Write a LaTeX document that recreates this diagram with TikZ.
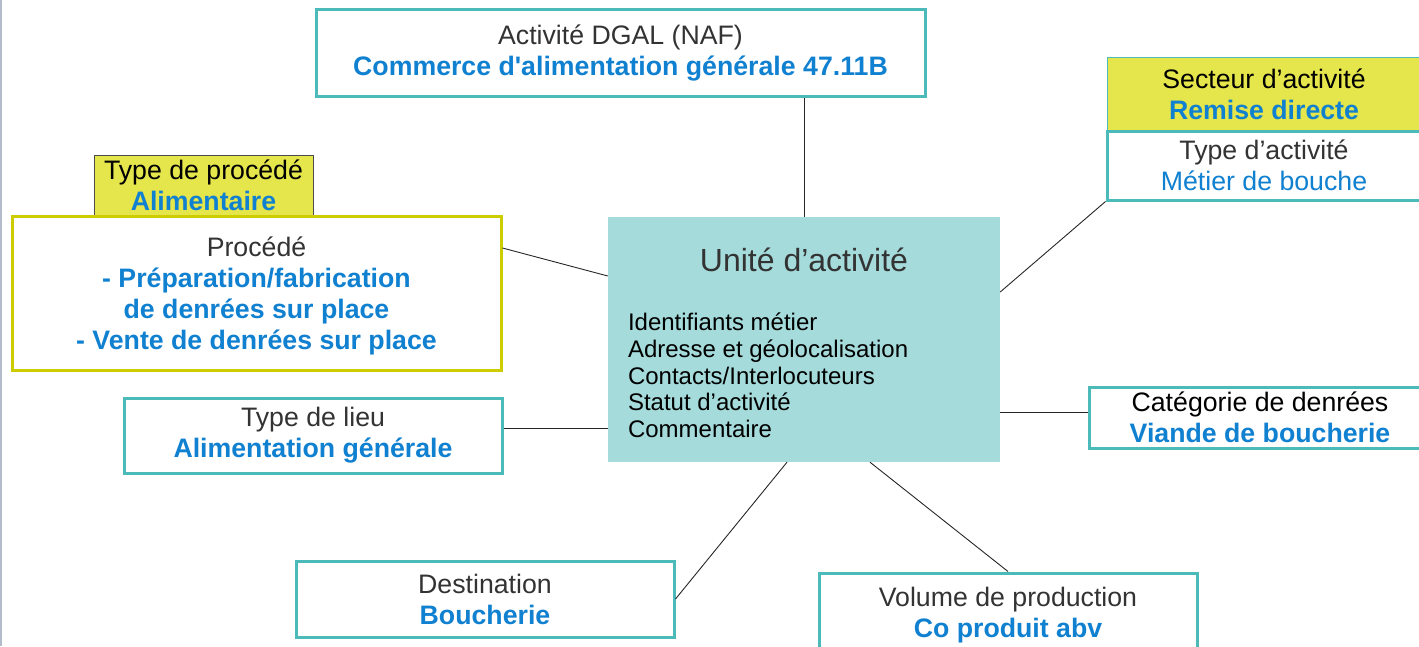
\documentclass[tikz,border=0pt]{standalone}
\usepackage{fontspec}
\setmainfont{Liberation Sans}
\usetikzlibrary{positioning}
\definecolor{bleuval}{RGB}{16,128,208}
\definecolor{turquoise}{RGB}{75,186,184}
\definecolor{fondunite}{RGB}{165,219,219}
\definecolor{jaunetag}{RGB}{229,229,76}
\definecolor{jauneproc}{RGB}{204,204,0}
\definecolor{grisfonce}{RGB}{51,51,51}
\definecolor{bordgauche}{RGB}{180,188,204}
\newcommand{\valeur}[1]{\textcolor{bleuval}{\bfseries #1}}

\begin{document}
\begin{tikzpicture}[x=1pt,y=-1pt,
                    case/.style={draw=turquoise, line width=3pt, fill=white, align=center, inner sep=0pt,
                                 font=\fontsize{26.7}{31}\selectfont, text=grisfonce},
                    etiquette/.style={fill=jaunetag, line width=1pt, align=center, inner sep=0pt,
                                      font=\fontsize{26.7}{31}\selectfont, text=black},
                    lien/.style={draw=black!85, line width=0.9pt}]

    \useasboundingbox (0,0) rectangle (1419,646);
    \draw[bordgauche, line width=2pt] (1,0) -- (1,646);

    \node[case, minimum width=609pt, minimum height=87pt] (dgal) at (620.5,53)
        {Activité DGAL (NAF)\\\valeur{Commerce d\textquotesingle alimentation générale 47.11B}};

    \node[etiquette, draw=turquoise, minimum width=314pt, minimum height=74pt] (secteur) at (1264,94)
        {Secteur d’activité\\\valeur{Remise directe}};
    \node[case, minimum width=314pt, minimum height=69pt] (typeact) at (1264,165.5)
        {Type d’activité\\\textcolor{bleuval}{Métier de bouche}};

    \node[etiquette, draw=black!70, minimum width=219pt, minimum height=60pt] (typeproc) at (203.5,185)
        {Type de procédé\\\valeur{Alimentaire}};
    \node[case, draw=jauneproc, minimum width=489pt, minimum height=154pt] (procede) at (256.5,293)
        {\rule{0pt}{26pt}Procédé\\\valeur{- Préparation/fabrication}\\\valeur{de denrées sur place}\\\valeur{- Vente de denrées sur place}};

    \node[fill=fondunite, minimum width=392pt, minimum height=245pt] (unite) at (804,339.5) {};
    \node[font=\fontsize{32}{38}\selectfont, text=grisfonce] (titre) at ([yshift=-43pt]unite.north) {Unité d’activité};
    \node[anchor=west, align=left, inner sep=0pt, font=\fontsize{24}{26.7}\selectfont] (liste)
        at ([xshift=20pt,yshift=-36pt]unite.west)
        {Identifiants métier\\Adresse et géolocalisation\\Contacts/Interlocuteurs\\Statut d’activité\\Commentaire};

    \node[case, minimum width=378pt, minimum height=75pt] (lieu) at (313,435.5)
        {Type de lieu\\\valeur{Alimentation générale}};
    \node[case, text=black, minimum width=342pt, minimum height=61pt] (categ) at (1260,417.5)
        {Catégorie de denrées\\\valeur{Viande de boucherie}};
    \node[case, minimum width=378pt, minimum height=76pt] (dest) at (485,599)
        {Destination\\\valeur{Boucherie}};
    \node[case, minimum width=378pt, minimum height=85pt] (volume) at (1008,615.5)
        {Volume de production\\\valeur{Co produit abv}};

    \draw[lien] (unite.north) -- (unite.north |- dgal.south);
    \draw[lien] ([yshift=45pt]procede.east) -- ([yshift=63.5pt]unite.west);
    \draw[lien] (typeact.south west) -- ([yshift=47.5pt]unite.east);
    \draw[lien] ([yshift=7pt]lieu.east) -- ([yshift=7pt]lieu.east -| unite.west);
    \draw[lien] ([yshift=5pt]categ.west) -- ([yshift=5pt]categ.west -| unite.east);
    \draw[lien] (dest.east) -- ([xshift=-17pt]unite.south);
    \draw[lien] (volume.north) -- ([xshift=66pt]unite.south);
\end{tikzpicture}
\end{document}
